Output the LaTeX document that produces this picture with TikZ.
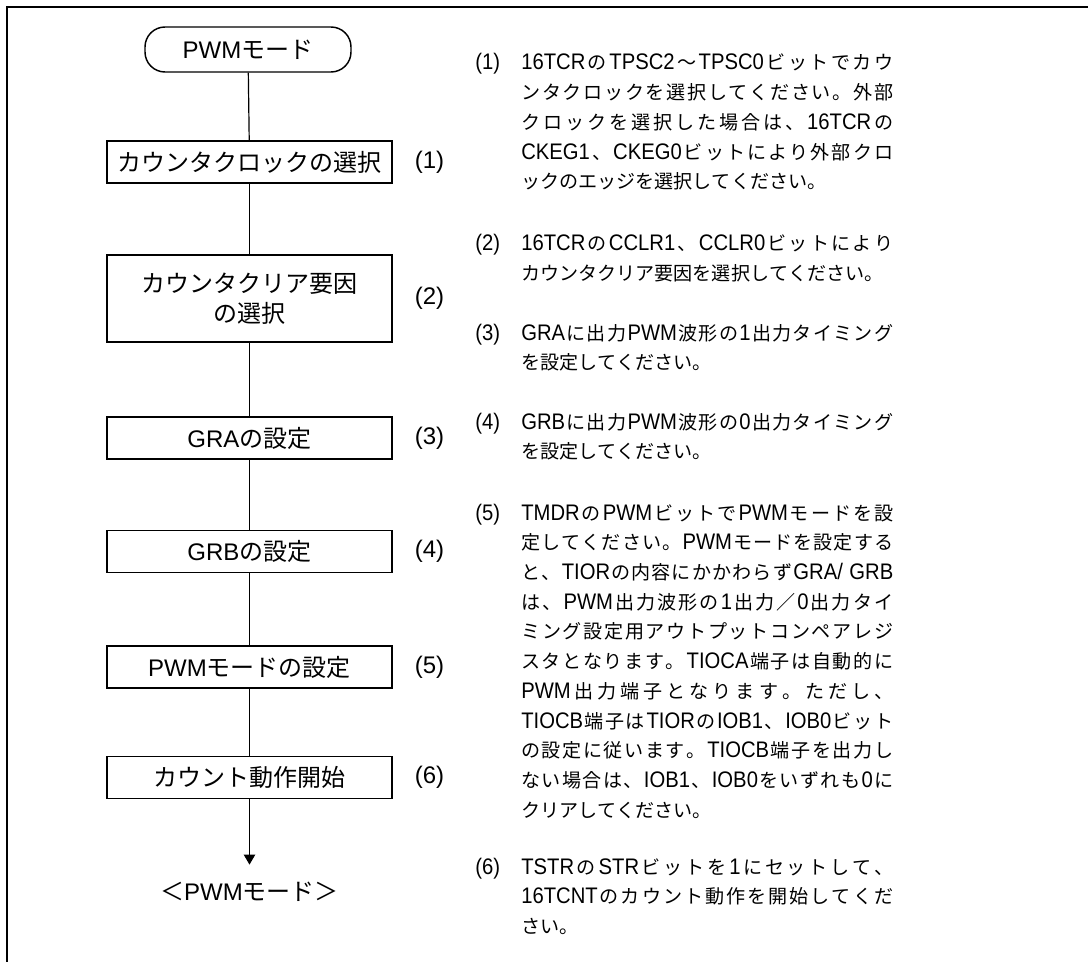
\documentclass[tikz,border=0pt]{standalone}
\usepackage{fontspec}
\setmainfont{Liberation Sans}
\newfontfamily\jpfont{Noto Sans CJK JP}
\newfontfamily\notelatin{Liberation Sans}[Scale=1.18,FakeStretch=0.9]
\usetikzlibrary{arrows.meta,positioning}

% kana, kanji and full-width signs in the Japanese font
\newXeTeXintercharclass\jpclass
\newcount\jpcode
\newcommand\setjprange[2]{%
  \jpcode=#1
  \loop
    \XeTeXcharclass\jpcode=\jpclass
  \ifnum\jpcode<#2 \advance\jpcode by 1 \repeat}
\setjprange{"3000}{"30FF}
\setjprange{"4E00}{"9FFF}
\setjprange{"FF00}{"FFEF}
\newcommand\jpskip{\hskip 0pt plus 3pt\relax}
\newcommand\latinfont{\rmfamily}
\XeTeXinterchartoks \jpclass \jpclass = {\jpskip}
\XeTeXinterchartoks 0 \jpclass = {\jpskip\jpfont}
\XeTeXinterchartoks 4095 \jpclass = {\jpfont}
\XeTeXinterchartoks \jpclass 0 = {\latinfont\jpskip}
\XeTeXinterchartoks \jpclass 4095 = {\latinfont}
\XeTeXinterchartokenstate=1

\newcommand\boxfont{\fontsize{18}{22.5}\selectfont}
\newcommand\notefont{\fontsize{14.3}{22.3}\selectfont
  \let\latinfont\notelatin\notelatin
  \parindent=0pt\tolerance=9999\hbadness=10000}

\tikzset{
  frame/.style={line width=1.8pt, line cap=rect},
  term/.style={
    draw, line width=1.1pt, rounded corners=15pt,
    minimum width=154.5pt, minimum height=33.75pt, inner sep=0pt,
    font=\boxfont
  },
  stepbox/.style={
    draw, line width=1.1pt, align=center,
    minimum width=213.75pt, minimum height=31.5pt, inner sep=0pt,
    font=\boxfont
  },
  conn/.style={line width=0.9pt},
  arr/.style={-{Triangle[length=7.5pt,width=8.5pt]}, line width=0.9pt},
  endtext/.style={font=\boxfont, inner xsep=0pt, inner ysep=13pt},
  num/.style={font=\boxfont},
  numr/.style={font=\notefont, anchor=base west, inner sep=0pt},
  note/.style={
    font=\notefont, anchor=base west, inner sep=0pt,
    text width=279pt, align=justify
  }
}

\begin{document}
\begin{tikzpicture}[x=0.75pt,y=-0.75pt]
\useasboundingbox (0,0) rectangle (1088,962);
\draw[frame] (7,962) -- (7,7) -- (1088,7);

\node[term] (start) at (248,49.5) {PWMモード};
\node[stepbox] (b1) at (249.5,162) {カウンタクロックの選択};
\node[stepbox, minimum height=65.25pt] (b2) at (249.5,298.5) {カウンタクリア要因\\の選択};
\node[stepbox] (b3) at (249.5,438) {GRAの設定};
\node[stepbox] (b4) at (249.5,551.5) {GRBの設定};
\node[stepbox] (b5) at (249.5,667) {PWMモードの設定};
\node[stepbox] (b6) at (249.5,777.5) {カウント動作開始};
\node[endtext] (fin) at (249.5,892) {＜PWMモード＞};

\draw[conn] (start) -- (b1);
\draw[conn] (b1) -- (b2);
\draw[conn] (b2) -- (b3);
\draw[conn] (b3) -- (b4);
\draw[conn] (b4) -- (b5);
\draw[conn] (b5) -- (b6);
\draw[arr] (b6) -- (fin);

\node[num, right=13pt of b1] (n1) {(1)};
\node[num, right=13pt of b2] (n2) {(2)};
\node[num, right=13pt of b3] (n3) {(3)};
\node[num, right=13pt of b4] (n4) {(4)};
\node[num, right=13pt of b5] (n5) {(5)};
\node[num, right=13pt of b6] (n6) {(6)};

\node[numr] (r1) at (475,70) {(1)};
\node[note] (t1) at (521,70) {16TCRのTPSC2～TPSC0ビットでカウ\linebreak ンタクロックを選択してください。外部\linebreak クロックを選択した場合は、16TCRの\linebreak CKEG1、CKEG0ビットにより外部クロ\linebreak ックのエッジを選択してください。};

\node[numr] (r2) at (475,251) {(2)};
\node[note] (t2) at (521,251) {16TCRのCCLR1、CCLR0ビットにより\linebreak カウンタクリア要因を選択してください。};

\node[numr] (r3) at (475,340) {(3)};
\node[note] (t3) at (521,340) {GRAに出力PWM波形の1出力タイミング\linebreak を設定してください。};

\node[numr] (r4) at (475,429) {(4)};
\node[note] (t4) at (521,429) {GRBに出力PWM波形の0出力タイミング\linebreak を設定してください。};

\node[numr] (r5) at (475,520) {(5)};
\node[note] (t5) at (521,520) {TMDRのPWMビットでPWMモードを設\linebreak 定してください。PWMモードを設定する\linebreak と、TIORの内容にかかわらずGRA/ GRB\linebreak は、PWM出力波形の1出力／0出力タイ\linebreak ミング設定用アウトプットコンペアレジ\linebreak スタとなります。TIOCA端子は自動的に\linebreak PWM出力端子となります。ただし、\linebreak TIOCB端子はTIORのIOB1、IOB0ビット\linebreak の設定に従います。TIOCB端子を出力し\linebreak ない場合は、IOB1、IOB0をいずれも0に\linebreak クリアしてください。};

\node[numr] (r6) at (475,874) {(6)};
\node[note] (t6) at (521,874) {TSTRのSTRビットを1にセットして、\linebreak 16TCNTのカウント動作を開始してくだ\linebreak さい。};
\end{tikzpicture}
\end{document}
